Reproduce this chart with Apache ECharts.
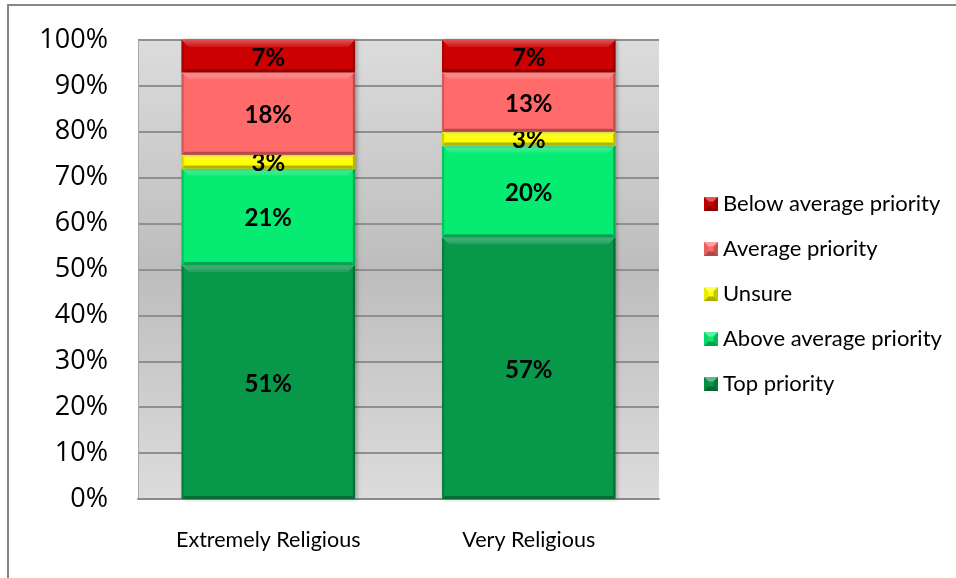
<!DOCTYPE html>
<html>
<head>
<meta charset="utf-8">
<script src="https://cdn.jsdelivr.net/npm/echarts@6/dist/echarts.min.js"></script>
<style>
  html, body { margin: 0; padding: 0; background: #ffffff; }
  #chart { width: 956px; height: 578px; }
</style>
</head>
<body>
<div id="chart"></div>
<script>
// Groups on the x axis
const categories = ['Extremely Religious', 'Very Religious'];

// Share of respondents per answer (percent), bottom of the stack first
const seriesNames = ['Top priority', 'Above average priority', 'Unsure', 'Average priority', 'Below average priority'];
const topPriority = [51, 57];
const aboveAverage = [21, 20];
const unsure = [3, 3];
const averagePriority = [18, 13];
const belowAverage = [7, 7];

// Y axis ticks
const yTicks = [0, 10, 20, 30, 40, 50, 60, 70, 80, 90, 100];

const seriesValues = [topPriority, aboveAverage, unsure, averagePriority, belowAverage];
const seriesColors = ['#07984A', '#06EC72', '#FFFF00', '#FF6B6B', '#CC0000'];

function mix(hex, target, t) {
  const a = parseInt(hex.slice(1), 16);
  const r = (a >> 16) & 255, g = (a >> 8) & 255, b = a & 255;
  const tr = target ? 255 : 0;
  const m = (c) => Math.round(c + (tr - c) * t);
  return 'rgb(' + m(r) + ',' + m(g) + ',' + m(b) + ')';
}

// Running stack bases per category
const bases = categories.map(() => 0);
const stackedData = seriesValues.map((vals) =>
  vals.map((v, i) => {
    const lo = bases[i];
    bases[i] += v;
    return [i, lo, lo + v, v];
  })
);

// Small beveled square used as the legend swatch
function bevelIcon(color) {
  const s = 28;
  const c = document.createElement('canvas');
  c.width = s; c.height = s;
  const g = c.getContext('2d');
  const b = 9;
  g.fillStyle = color;
  g.fillRect(0, 0, s, s);
  const poly = (pts, fill) => {
    g.beginPath();
    g.moveTo(pts[0][0], pts[0][1]);
    for (let i = 1; i < pts.length; i++) g.lineTo(pts[i][0], pts[i][1]);
    g.closePath();
    g.fillStyle = fill;
    g.fill();
  };
  poly([[0, 0], [s, 0], [s - b, b], [b, b]], mix(color, true, 0.35));
  poly([[0, 0], [b, b], [b, s - b], [0, s]], mix(color, false, 0.08));
  poly([[s, 0], [s - b, b], [s - b, s - b], [s, s]], mix(color, false, 0.22));
  poly([[0, s], [s, s], [s - b, s - b], [b, s - b]], mix(color, false, 0.32));
  return 'image://' + c.toDataURL();
}

function makeRenderItem(color) {
  const light = mix(color, true, 0.32);
  const lightMid = mix(color, true, 0.08);
  const dark = mix(color, false, 0.3);
  const side = mix(color, false, 0.18);
  return function (params, api) {
    const cat = api.value(0);
    const lo = api.value(1);
    const hi = api.value(2);
    const val = api.value(3);
    const p0 = api.coord([cat, lo]);
    const p1 = api.coord([cat, hi]);
    const bw = api.size([1, 0])[0] * 0.665;
    const x = p0[0] - bw / 2;
    const y = p1[1];
    const w = bw;
    const h = p0[1] - p1[1];
    const bt = Math.min(7, h / 2.5);
    const bs = 2;
    const bb = Math.min(3, h / 4);
    return {
      type: 'group',
      children: [
        {
          type: 'rect',
          shape: { x: x, y: y, width: w, height: h },
          style: { fill: color, shadowBlur: 4, shadowOffsetX: 2, shadowOffsetY: 0, shadowColor: 'rgba(0,0,0,0.3)' }
        },
        {
          type: 'polygon',
          shape: { points: [[x, y], [x + bs, y + bs], [x + bs, y + h - bs], [x, y + h]] },
          style: { fill: side }
        },
        {
          type: 'polygon',
          shape: { points: [[x + w, y], [x + w - bs, y + bs], [x + w - bs, y + h - bs], [x + w, y + h]] },
          style: { fill: dark }
        },
        {
          type: 'polygon',
          shape: { points: [[x, y], [x + w, y], [x + w - bt, y + bt], [x + bt, y + bt]] },
          style: {
            fill: new echarts.graphic.LinearGradient(0, 0, 0, 1, [
              { offset: 0, color: light },
              { offset: 1, color: lightMid }
            ])
          }
        },
        {
          type: 'polygon',
          shape: { points: [[x, y + h], [x + w, y + h], [x + w - bb, y + h - bb], [x + bb, y + h - bb]] },
          style: { fill: dark }
        },
        {
          type: 'text',
          style: {
            text: val + '%',
            x: x + w / 2,
            y: y + h / 2 + 2,
            align: 'center',
            verticalAlign: 'middle',
            fill: '#000000',
            font: 'bold 24px Lato'
          }
        }
      ]
    };
  };
}

const chart = echarts.init(document.getElementById('chart'), null, { renderer: 'canvas' });

chart.setOption({
  animation: false,
  backgroundColor: '#ffffff',
  graphic: [
    {
      type: 'rect',
      z: -10,
      shape: { x: 8, y: 5, width: 970, height: 600 },
      style: { fill: 'none', stroke: '#878787', lineWidth: 2 }
    }
  ],
  grid: {
    left: 138,
    right: 297,
    top: 40,
    bottom: 79,
    show: true,
    borderWidth: 0,
    backgroundColor: new echarts.graphic.LinearGradient(0, 0, 0, 1, [
      { offset: 0, color: '#dcdcdc' },
      { offset: 0.5, color: '#bdbdbd' },
      { offset: 1, color: '#dcdcdc' }
    ])
  },
  legend: {
    orient: 'vertical',
    left: 699,
    top: 188,
    itemWidth: 14,
    itemHeight: 14,
    itemGap: 23,
    data: seriesNames.slice().reverse().map((name) => ({
      name: name,
      icon: bevelIcon(seriesColors[seriesNames.indexOf(name)])
    })),
    textStyle: { fontFamily: 'Lato', fontSize: 22, color: '#000000' }
  },
  xAxis: {
    type: 'category',
    data: categories,
    axisTick: { show: false },
    axisLine: { show: true, lineStyle: { color: '#8a8a8a', width: 2 } },
    axisLabel: { margin: 30, fontFamily: 'Lato', fontSize: 21.5, color: '#000000' },
    splitLine: { show: false }
  },
  yAxis: {
    type: 'value',
    min: yTicks[0],
    max: yTicks[yTicks.length - 1],
    interval: yTicks[1] - yTicks[0],
    axisTick: { show: false },
    axisLine: { show: true, lineStyle: { color: '#a6a6a6', width: 1 } },
    axisLabel: { margin: 30, formatter: '{value}%', fontFamily: 'Open Sans', fontSize: 27, color: '#000000' },
    splitLine: { show: true, lineStyle: { color: '#8f8f8f', width: 2 } }
  },
  series: seriesNames.map((name, i) => ({
    type: 'custom',
    name: name,
    itemStyle: { color: seriesColors[i] },
    renderItem: makeRenderItem(seriesColors[i]),
    encode: { x: 0, y: [1, 2] },
    data: stackedData[i]
  }))
});
</script>
</body>
</html>
